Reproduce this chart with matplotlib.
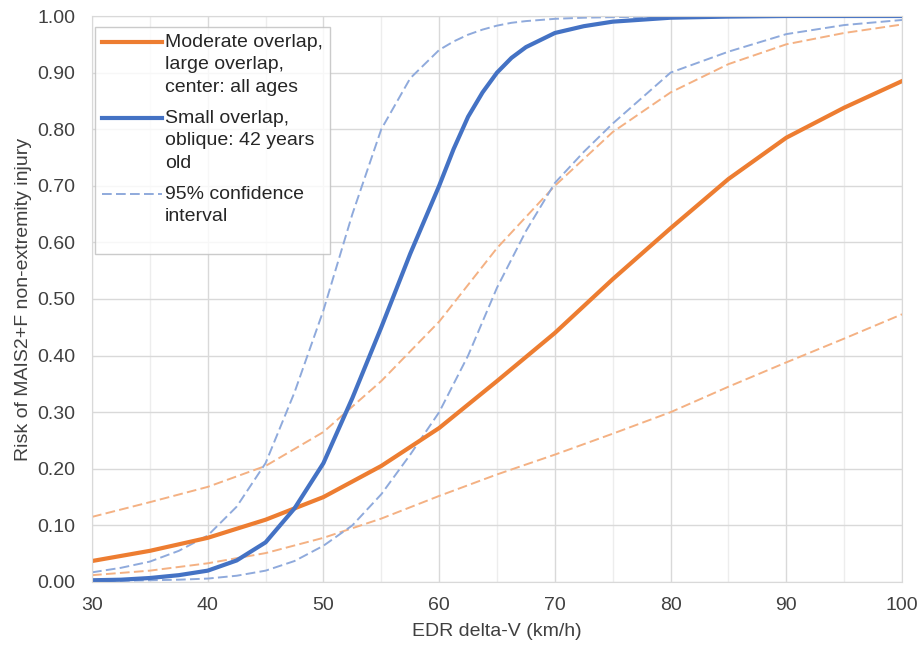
import numpy as np
import matplotlib.pyplot as plt
from matplotlib.ticker import MultipleLocator
from matplotlib.legend_handler import HandlerLine2D

plt.rcParams['font.family'] = ['Liberation Sans', 'DejaVu Sans']

# Moderate overlap, large overlap, center: all ages
x_mod = [30, 35, 40, 45, 50, 55, 60, 65, 70, 75, 80, 85, 90, 95, 100]
mod = [0.037, 0.055, 0.078, 0.11, 0.15, 0.205, 0.272, 0.355, 0.44, 0.535, 0.625, 0.712, 0.785, 0.838, 0.885]
mod_hi = [0.115, 0.141, 0.168, 0.205, 0.265, 0.355, 0.46, 0.59, 0.70, 0.795, 0.865, 0.915, 0.95, 0.97, 0.985]
mod_lo = [0.012, 0.02, 0.033, 0.051, 0.078, 0.112, 0.152, 0.19, 0.225, 0.262, 0.30, 0.345, 0.388, 0.43, 0.473]

# Small overlap, oblique: 42 years old
x_small = [30, 32.5, 35, 37.5, 40, 42.5, 45, 47.5, 50, 52.5, 55, 57.5, 60, 61.25, 62.5, 63.75, 65,
           66.25, 67.5, 70, 72.5, 75, 80, 85, 90, 95, 100]
small = [0.003, 0.004, 0.007, 0.012, 0.02, 0.038, 0.07, 0.13, 0.21, 0.325, 0.45, 0.58, 0.70, 0.765, 0.822, 0.865, 0.90,
         0.926, 0.945, 0.97, 0.982, 0.99, 0.997, 0.999, 1.0, 1.0, 1.0]
small_hi = [0.017, 0.025, 0.036, 0.055, 0.082, 0.133, 0.21, 0.335, 0.48, 0.65, 0.80, 0.89, 0.94, 0.955, 0.967, 0.976, 0.983,
            0.988, 0.991, 0.995, 0.997, 0.998, 0.999, 1.0, 1.0, 1.0, 1.0]
small_lo = [0.002, 0.002, 0.003, 0.004, 0.006, 0.011, 0.02, 0.037, 0.064, 0.10, 0.155, 0.225, 0.30, 0.35, 0.40, 0.46, 0.52,
            0.57, 0.62, 0.705, 0.76, 0.81, 0.90, 0.937, 0.968, 0.984, 0.993]

labels = ['Moderate overlap,\nlarge overlap,\ncenter: all ages',
          'Small overlap,\noblique: 42 years\nold',
          '95% confidence\ninterval\n']

orange = '#ED7D31'
blue = '#4472C4'
orange_l = '#F4B183'
blue_l = '#8FAADC'
dash = (0, (5, 2.2))


# legend handle sits on the first line of a multi-line label (Excel style)
class FirstLineHandler(HandlerLine2D):
    def __init__(self, dy, **kw):
        super().__init__(**kw)
        self.dy = dy

    def create_artists(self, legend, orig_handle, xdescent, ydescent, width, height, fontsize, trans):
        arts = super().create_artists(legend, orig_handle, xdescent, ydescent, width, height, fontsize, trans)
        for a in arts:
            a.set_ydata(np.asarray(a.get_ydata()) + self.dy)
        return arts


fig = plt.figure(figsize=(9.21, 6.48), dpi=100)
ax = fig.add_axes([0.0999, 0.1019, 0.8795, 0.8734])

ax.plot(x_mod, mod_hi, color=orange_l, lw=1.4, ls=dash)
ax.plot(x_mod, mod_lo, color=orange_l, lw=1.4, ls=dash)
ax.plot(x_small, small_hi, color=blue_l, lw=1.4, ls=dash)
ax.plot(x_small, small_lo, color=blue_l, lw=1.4, ls=dash)
l1, = ax.plot(x_mod, mod, color=orange, lw=3)
l2, = ax.plot(x_small, small, color=blue, lw=3)
l3, = ax.plot([], [], color=blue_l, lw=1.4, ls=dash)

ax.set_xlim(30, 100)
ax.set_ylim(0, 1.0)
ax.xaxis.set_major_locator(MultipleLocator(10))
ax.xaxis.set_minor_locator(MultipleLocator(5))
ax.yaxis.set_major_locator(MultipleLocator(0.1))
ax.yaxis.set_major_formatter(plt.FuncFormatter(lambda v, p: f'{v:.2f}'))
ax.grid(True, which='major', color='#D9D9D9', lw=1)
ax.grid(True, which='minor', axis='x', color='#EDEDED', lw=1)
ax.set_axisbelow(True)
for s in ax.spines.values():
    s.set_color('#D9D9D9')
ax.tick_params(which='both', length=0, labelsize=14, colors='#404040')
ax.tick_params(axis='y', pad=12)
ax.tick_params(axis='x', pad=11)

ax.set_xlabel('EDR delta-V (km/h)', fontsize=14, color='#404040', labelpad=6)
ax.set_ylabel('Risk of MAIS2+F non-extremity injury', fontsize=14, color='#404040', labelpad=4)

line_pt = 16.5
leg = ax.legend([l1, l2, l3], labels,
                handler_map={l1: FirstLineHandler(line_pt), l2: FirstLineHandler(line_pt),
                             l3: FirstLineHandler(line_pt)},
                loc='upper left', bbox_to_anchor=(0.004, 0.98), fontsize=14,
                frameon=True, fancybox=False, handlelength=3.1, handletextpad=0.15,
                labelspacing=0.75, borderpad=0.35, borderaxespad=0, labelcolor='#262626')
for t in leg.get_texts():
    t.set_linespacing(1.4)
leg.get_frame().set_edgecolor('#BFBFBF')
leg.get_frame().set_linewidth(1)

fig.savefig('out.png', dpi=100, facecolor='white')
